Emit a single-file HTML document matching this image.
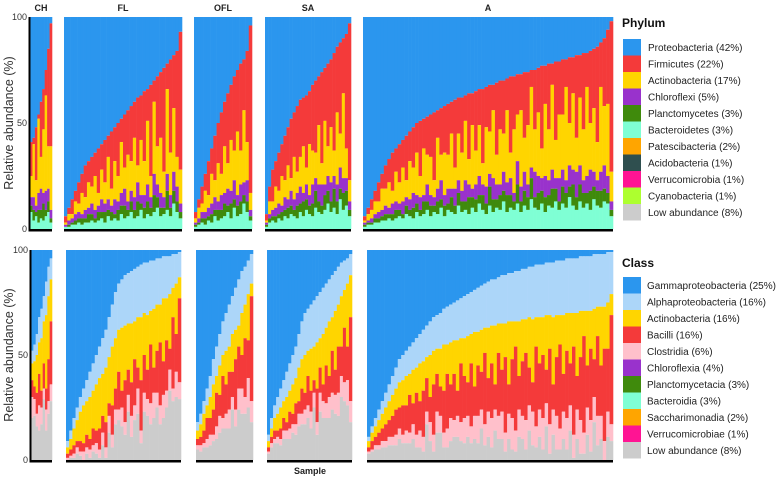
<!DOCTYPE html>
<html><head><meta charset="utf-8"><style>
html,body{margin:0;padding:0;background:#fff;}
svg{display:block;font-family:"Liberation Sans",sans-serif;}
</style></head><body>
<svg id="chart" width="777" height="478" viewBox="0 0 777 478"></svg>
<script>
const panelNames = ["CH","FL","OFL","SA","A"];
const panelSizes = [9,36,18,28,72];
const tickLabels = ["0","50","100"];
const tickValues = [0,50,100];

// Top (Phylum) data
const proteo = [59,57,52,46,40,34,25,15,3,
94,90,86,82,78,74,70,68,66,64,62,60,58,56,54,52,50,48,46,44,42,40,38,37,35,34,32,30,28,26,24,22,20,18,16,7,
92,86,80,74,68,62,56,50,45,40,36,32,28,25,22,20,16,4,
93,80,72,68,64,60,56,52,48,45,42,39,38,37,35,32,30,28,26,24,22,20,17,14,12,10,8,3,
94,90,86,82,78,74,70,67,64,62,60,58,56,54,52,50,49,48,47,46,45,44,43,42,41,40,39,38,38,37,36,36,35,34,34,33,32,32,31,30,30,29,28,28,27,27,26,26,25,25,24,23,23,22,22,21,21,20,20,19,19,18,18,17,17,16,15,14,12,10,6,2];
const actinoP = [10,25,12,35,15,30,45,20,30,
1,3,2,6,4,10,6,12,8,16,6,14,10,20,8,18,12,24,10,22,14,28,8,26,16,30,10,34,18,26,12,40,20,30,14,16,
2,5,4,10,6,14,8,18,10,22,12,24,14,30,16,34,18,8,
1,6,4,10,6,14,8,16,6,20,10,14,22,8,24,16,12,28,10,30,14,26,12,34,16,40,14,10,
1,3,4,6,5,10,8,12,6,14,10,16,8,18,12,20,10,22,14,18,8,24,12,20,16,26,10,22,18,28,12,30,16,24,10,28,20,32,14,26,18,34,12,30,22,36,16,28,38,20,30,14,34,24,40,18,30,26,44,20,36,16,32,24,42,22,30,18,40,28,34,14];
const chloroP = [4,6,3,8,10,5,9,6,4,
1,2,2,3,3,2,4,3,5,4,3,6,4,5,3,7,4,6,8,4,5,6,9,4,6,8,5,10,6,7,5,8,6,9,7,4,
1,2,3,3,4,5,6,4,7,5,8,6,9,5,8,6,10,3,
1,2,3,4,5,3,6,4,7,5,6,8,4,7,5,9,6,8,10,5,7,9,6,8,10,7,6,4,
1,1,2,2,3,3,4,3,5,4,3,6,4,5,7,4,6,3,8,5,4,6,9,5,7,4,8,6,5,10,6,4,7,9,5,8,6,10,7,5,9,6,8,4,11,7,9,6,5,12,8,6,10,7,9,5,11,8,6,10,7,12,9,6,8,10,7,5,9,11,8,4];
const planctoP = [3,5,2,6,4,8,3,5,2,
0,1,1,2,2,3,2,4,3,2,4,3,5,3,4,2,5,4,6,3,5,4,7,3,5,6,4,8,5,4,3,9,4,6,5,3,
1,1,2,3,2,4,3,5,4,6,3,7,4,5,6,4,5,2,
1,2,2,3,2,4,3,5,4,3,6,4,7,5,4,6,8,5,4,7,6,5,9,6,5,8,7,3,
1,1,1,2,2,2,3,2,3,4,3,2,4,3,5,4,3,6,4,5,3,6,4,5,3,7,4,6,5,4,8,5,6,4,7,5,9,6,4,7,5,8,6,4,9,5,7,6,10,5,8,6,7,5,9,6,4,8,7,5,10,6,8,7,5,9,6,7,8,6,5,3];
const bactP = [8,4,6,3,5,4,6,8,3,
1,1,2,2,3,2,3,3,4,3,4,5,3,6,4,5,4,7,5,6,8,5,6,9,5,7,6,8,10,6,7,9,6,12,8,5,
1,2,3,2,4,3,6,4,5,6,8,5,10,6,7,12,8,4,
1,3,4,3,5,4,6,5,7,6,5,8,6,9,7,6,10,8,7,9,12,8,10,7,14,9,11,6,
1,2,2,3,3,4,4,5,4,5,6,5,7,6,5,8,6,7,9,6,8,7,10,6,9,8,7,11,8,9,7,10,8,12,9,7,11,8,10,9,13,8,10,9,12,8,11,9,14,10,9,12,8,11,10,13,9,12,10,15,11,9,13,10,12,9,14,11,10,13,12,6];

// Bottom (Class) data
const gammaC = [48,45,40,32,28,22,15,8,4,
91,86,80,75,70,66,62,58,54,50,46,42,38,32,26,20,16,14,12,11,10,9,8,7,6,6,5,5,4,4,3,3,3,2,2,1,
82,78,72,66,60,52,46,40,34,30,26,22,18,14,10,8,5,2,
88,80,74,70,66,62,58,54,50,46,40,34,30,28,26,24,22,20,18,16,14,12,10,8,6,5,4,2,
89,84,80,76,72,68,64,60,56,52,50,48,46,44,42,40,38,36,34,32,31,30,28,27,26,25,24,23,22,21,20,19,18,17,16,15,14,14,13,12,12,11,11,10,10,9,9,8,8,7,7,7,6,6,6,5,5,5,4,4,4,4,3,3,3,3,2,2,2,2,1,1];
const alphaC = [6,8,10,12,14,12,16,14,10,
3,4,5,6,7,8,10,12,13,14,15,17,18,19,20,22,22,23,24,24,25,25,24,25,24,25,24,23,22,22,20,20,18,16,14,12,
4,5,6,8,10,12,14,15,16,18,20,18,20,22,20,18,16,14,
3,5,6,8,9,10,12,13,14,15,16,18,20,20,21,22,22,22,22,21,20,20,19,18,16,14,12,10,
2,3,4,5,6,7,8,9,10,11,12,12,13,13,14,14,15,15,16,16,16,17,17,18,18,18,19,19,20,20,20,20,21,21,21,22,22,22,22,23,23,23,23,24,24,24,24,24,25,25,25,25,25,25,26,26,26,26,26,26,26,26,26,26,26,26,26,25,25,25,24,20];
const actinoC = [8,12,18,15,25,20,35,30,20,
3,5,8,10,14,18,16,20,18,22,24,20,26,22,28,24,20,30,26,22,28,18,24,30,20,26,16,28,22,18,30,20,26,14,24,10,
4,6,8,6,10,12,8,14,10,16,12,18,14,10,20,16,22,6,
3,4,6,8,10,8,12,10,14,12,16,14,18,12,20,16,22,14,24,18,26,16,28,20,24,18,30,20,
3,4,5,6,7,8,9,10,10,12,12,14,10,16,12,18,14,10,20,16,12,18,22,14,20,16,24,12,18,22,14,26,16,20,12,24,18,28,14,22,16,30,18,12,26,20,16,24,30,14,22,18,26,16,32,20,14,28,18,24,16,30,22,12,26,18,24,14,28,20,22,10];
const bacilliC = [8,6,10,15,8,12,10,20,30,
2,3,4,3,5,4,6,5,8,6,10,8,12,6,14,10,18,8,20,12,16,22,10,24,18,14,28,12,20,30,16,24,10,34,18,40,
3,4,6,10,8,12,16,10,20,14,18,12,24,20,16,28,18,50,
2,3,4,3,5,6,4,8,5,10,6,12,8,14,10,6,16,12,8,18,10,20,12,22,14,26,16,40,
2,4,4,6,6,8,8,10,12,10,14,12,18,10,20,14,22,16,12,24,18,14,20,26,16,22,12,28,20,16,30,14,24,18,34,16,26,12,30,20,36,14,28,40,16,26,32,18,14,38,22,30,16,36,12,28,40,18,32,20,42,16,30,46,20,34,18,38,24,44,30,52];
const clostC = [10,8,6,12,8,5,10,6,8,
1,1,2,3,2,4,3,4,3,5,4,6,5,8,6,7,5,9,6,8,10,7,12,6,9,8,10,12,7,9,11,8,10,6,12,8,
2,3,2,4,5,3,6,8,5,7,9,6,8,10,12,8,14,10,
1,2,2,3,3,4,4,5,4,5,6,5,7,6,8,7,6,9,8,7,10,8,9,11,10,9,12,10,
1,1,2,2,3,3,4,4,5,5,4,6,5,7,6,8,7,6,9,8,10,8,7,9,11,8,10,9,12,10,8,11,13,9,10,12,14,10,11,13,9,12,15,10,13,11,14,12,16,10,13,15,11,14,12,16,10,13,15,12,11,14,16,10,13,15,12,14,11,13,12,8];

const phylumLegend = ["Proteobacteria (42%)","Firmicutes (22%)","Actinobacteria (17%)","Chloroflexi (5%)","Planctomycetes (3%)","Bacteroidetes (3%)","Patescibacteria (2%)","Acidobacteria (1%)","Verrucomicrobia (1%)","Cyanobacteria (1%)","Low abundance (8%)"];
const phylumColors = ["#2b96ee","#f43a3a","#ffd500","#9932cc","#3f8a0c","#7fffd4","#ffa500","#2f4f4f","#ff1493","#adff2f","#cccccc"];
const classLegend = ["Gammaproteobacteria (25%)","Alphaproteobacteria (16%)","Actinobacteria (16%)","Bacilli (16%)","Clostridia (6%)","Chloroflexia (4%)","Planctomycetacia (3%)","Bacteroidia (3%)","Saccharimonadia (2%)","Verrucomicrobiae (1%)","Low abundance (8%)"];
const classColors = ["#2b96ee","#acd6f9","#ffd500","#f43a3a","#ffc0cb","#9932cc","#3f8a0c","#7fffd4","#ffa500","#ff1493","#cccccc"];

const NS="http://www.w3.org/2000/svg";
const svg=document.getElementById('chart');
function mk(tag,attrs,parent){const e=document.createElementNS(NS,tag);for(const k in attrs)e.setAttribute(k,attrs[k]);(parent||svg).appendChild(e);return e;}

const topPanels=[[30,52],[64,182],[194,252],[265,351],[363,613]];
const botPanels=[[31,52],[66,181],[196,253],[267,352],[367,613]];

function drawChart(panels,y100,y0,series,name,showTitles){
  const g=mk('g',{});
  
  
  const yScale=v=>y0-(v/100)*(y0-y100);
  let idx=0;
  panels.forEach((p,pi)=>{
    const n=panelSizes[pi];
    const bw=(p[1]-p[0])/n;
    const pg=mk('g',{},g);
    
    
    for(let i=0;i<n;i++,idx++){
      const x=p[0]+i*bw;
      let top=100;
      const vals=series.map(s=>s[0]?s[0][idx]:null);
      const known=vals.reduce((a,v)=>a+(v==null?0:v),0);
      const rem=Math.max(0,100-known);
      series.forEach((s,si)=>{
        let v=vals[si]==null?rem:vals[si];
        v=Math.min(v,top);
        if(v<=0)return;
        const r=mk('rect',{x:x.toFixed(2),y:yScale(top).toFixed(2),width:(bw+0.3).toFixed(2),height:(yScale(top-v)-yScale(top)).toFixed(2),fill:s[1]},pg);
        
        
        top-=v;
      });
    }
    const base=mk('rect',{x:p[0],y:y0,width:p[1]-p[0],height:2.5,fill:'#000'},g);
    
    
    if(showTitles){
      const t=mk('text',{x:(p[0]+p[1])/2,y:11,'text-anchor':'middle','font-size':'9','font-weight':'bold',fill:'#222'},g);
      t.textContent=panelNames[pi];
      
      
    }
  });
  const ax=mk('rect',{x:panels[0][0]-1.5,y:y100,width:2,height:y0-y100+2.5,fill:'#000'},g);
  
  
  tickValues.forEach((tv,ti)=>{
    const t=mk('text',{x:panels[0][0]-3,y:yScale(tv)+3,'text-anchor':'end','font-size':'9',fill:'#333'},g);
    t.textContent=tickLabels[ti];
    
    
  });
  const yc=(y100+y0)/2;
  const yt=mk('text',{x:13,y:yc,'text-anchor':'middle','font-size':'12.5',fill:'#333',transform:`rotate(-90 13 ${yc})`},g);
  yt.textContent='Relative abundance (%)';
  
  
}

drawChart(topPanels,17,229,[[proteo,phylumColors[0]],[null,phylumColors[1]],[actinoP,phylumColors[2]],[chloroP,phylumColors[3]],[planctoP,phylumColors[4]],[bactP,phylumColors[5]]],'phylum-chart',true);
drawChart(botPanels,250,460,[[gammaC,classColors[0]],[alphaC,classColors[1]],[actinoC,classColors[2]],[bacilliC,classColors[3]],[clostC,classColors[4]],[null,classColors[10]]],'class-chart',false);

const sx=mk('text',{x:310,y:474,'text-anchor':'middle','font-size':'9','font-weight':'bold',fill:'#222'});
sx.textContent='Sample';



function legend(title,labels,colors,ty,sy,tx,name){
  const g=mk('g',{});
  
  
  const t=mk('text',{x:622,y:ty,'font-size':'12','font-weight':'bold',fill:'#111'},g);
  t.textContent=title;
  
  
  labels.forEach((l,i)=>{
    const y=sy+i*16.5;
    const r=mk('rect',{x:623,y:y,width:18,height:16.5,fill:colors[i]},g);
    
    
    const tt=mk('text',{x:tx,y:y+12,'font-size':'10',fill:'#222'},g);
    tt.textContent=l;
    
    
  });
}
legend('Phylum',phylumLegend,phylumColors,27,39,648,'phylum-legend');
legend('Class',classLegend,classColors,267,277,647,'class-legend');
</script>
</body></html>
